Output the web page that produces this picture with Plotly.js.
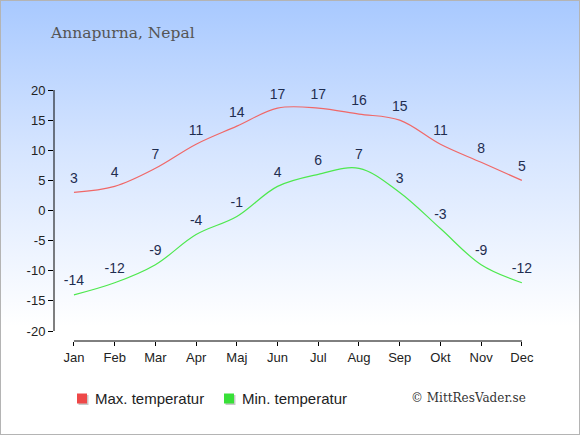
<!DOCTYPE html>
<html>
<head>
<meta charset="utf-8">
<script src="https://cdn.plot.ly/plotly-3.0.1.min.js"></script>
<style>
  html, body { margin: 0; padding: 0; }
  #wrap { position: relative; width: 580px; height: 435px; overflow: hidden;
          background: linear-gradient(to bottom, #a8c9ff 0%, #d6e5ff 35%, #ffffff 75%, #ffffff 100%); }
  #chart { position: absolute; left: 0; top: 0; width: 580px; height: 435px; }
  #frame { position: absolute; left: 0; top: 0; width: 580px; height: 435px; box-sizing: border-box;
           border: 1px solid #b4b4b4; pointer-events: none; }
</style>
</head>
<body>
<div id="wrap"><div id="chart"></div><div id="frame"></div></div>
<script>
const months = ["Jan","Feb","Mar","Apr","Maj","Jun","Jul","Aug","Sep","Okt","Nov","Dec"];
const maxTemp = [3, 4, 7, 11, 14, 17, 17, 16, 15, 11, 8, 5];
const minTemp = [-14, -12, -9, -4, -1, 4, 6, 7, 3, -3, -9, -12];
const yTicks = [-20, -15, -10, -5, 0, 5, 10, 15, 20];
const maxName = "Max. temperatur";
const minName = "Min. temperatur";
const titleText = "Annapurna, Nepal";
const creditText = "© MittResVader.se";

const maxColor = "#f06868";
const minColor = "#4ee84e";
const labelColor = "#1f2d50";

// plot area in pixels (for converting legend positions to paper coords)
const PL = 54, PW = 476, PB = 341, PH = 251;
const px = v => (v - PL) / PW;
const py = v => (PB - v) / PH;

const traces = [
  {
    type: "scatter", mode: "lines+markers+text", x: months, y: maxTemp, name: maxName,
    text: maxTemp.map(String), textposition: "top center",
    textfont: { family: "Liberation Sans, Arial, sans-serif", size: 14, color: labelColor },
    line: { color: maxColor, width: 1.2, shape: "spline", smoothing: 1 },
    marker: { size: 8, opacity: 0 },
    cliponaxis: false, showlegend: false, hoverinfo: "skip"
  },
  {
    type: "scatter", mode: "lines+markers+text", x: months, y: minTemp, name: minName,
    text: minTemp.map(String), textposition: "top center",
    textfont: { family: "Liberation Sans, Arial, sans-serif", size: 14, color: labelColor },
    line: { color: minColor, width: 1.2, shape: "spline", smoothing: 1 },
    marker: { size: 8, opacity: 0 },
    cliponaxis: false, showlegend: false, hoverinfo: "skip"
  }
];

function legendSquare(x, color) {
  return [
    { type: "rect", xref: "paper", yref: "paper", x0: px(x + 1.5), x1: px(x + 11.5), y0: py(405), y1: py(395),
      fillcolor: "#c8c8c8", line: { width: 0 }, layer: "above" },
    { type: "rect", xref: "paper", yref: "paper", x0: px(x), x1: px(x + 10), y0: py(403.5), y1: py(393.5),
      fillcolor: color, line: { width: 0 }, layer: "above" }
  ];
}

const layout = {
  width: 580, height: 435,
  margin: { l: PL, r: 580 - PL - PW, t: 90, b: 435 - PB },
  paper_bgcolor: "rgba(0,0,0,0)", plot_bgcolor: "rgba(0,0,0,0)",
  font: { family: "Liberation Sans, Arial, sans-serif", size: 13, color: "#222" },
  title: {
    text: titleText, x: 51 / 580, xanchor: "left", xref: "container",
    y: 1 - 33 / 435, yanchor: "middle", yref: "container",
    font: { family: "DejaVu Serif, Georgia, serif", size: 15.5, color: "#555" }
  },
  xaxis: {
    type: "category", categoryorder: "array", categoryarray: months,
    range: [-0.49, 11.2], showgrid: false, zeroline: false, showline: false,
    ticks: "outside", ticklen: 4, tickcolor: "#000", tickwidth: 1,
    tickfont: { size: 13, color: "#222" }, fixedrange: true
  },
  yaxis: {
    range: [-21.66, 20], tickvals: yTicks, ticktext: yTicks.map(String),
    showgrid: false, zeroline: false, showline: false,
    ticks: "outside", ticklen: 5, tickcolor: "#000", tickwidth: 1,
    tickfont: { size: 13, color: "#222" }, fixedrange: true
  },
  shapes: [
    { type: "line", xref: "paper", yref: "y", x0: 0, x1: 0, y0: yTicks[0], y1: yTicks[yTicks.length - 1],
      line: { color: "#000", width: 1 } },
    { type: "line", xref: "x", yref: "paper", x0: months[0], x1: months[months.length - 1], y0: 0, y1: 0,
      line: { color: "#000", width: 1 } },
    ...legendSquare(77, "#ee4848"),
    ...legendSquare(224, "#38e038")
  ],
  showlegend: false,
  annotations: [
    { text: maxName, xref: "paper", yref: "paper", x: px(93), xanchor: "left",
      y: py(398.5), yanchor: "middle", showarrow: false,
      font: { size: 15, color: "#222" } },
    { text: minName, xref: "paper", yref: "paper", x: px(240), xanchor: "left",
      y: py(398.5), yanchor: "middle", showarrow: false,
      font: { size: 15, color: "#222" } },
    { text: creditText, xref: "paper", yref: "paper", x: px(528), xanchor: "right",
      y: py(398), yanchor: "middle", showarrow: false,
      font: { family: "DejaVu Serif, Georgia, serif", size: 12, color: "#333" } }
  ]
};

Plotly.newPlot("chart", traces, layout, { staticPlot: true, displayModeBar: false });
</script>
</body>
</html>
